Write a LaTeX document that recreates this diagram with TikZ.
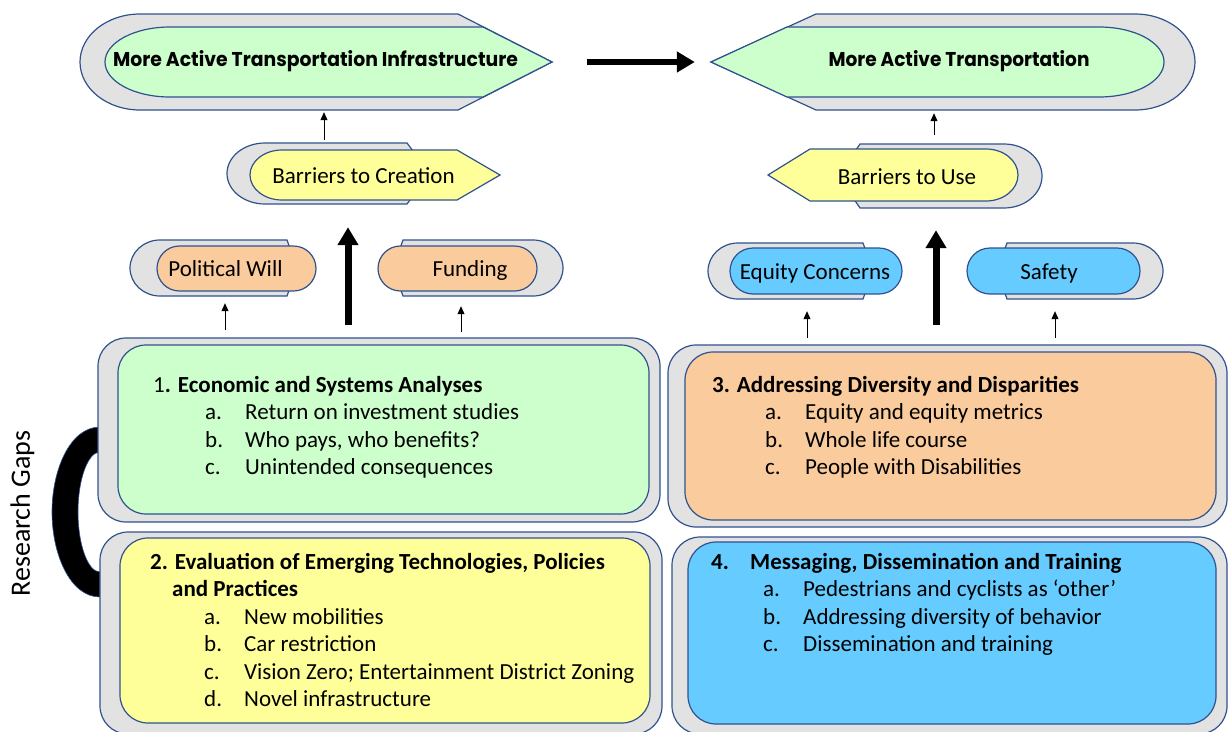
\documentclass[tikz,border=0pt]{standalone}
\usepackage{fontspec}
\setmainfont{Carlito}
\newfontfamily\titlefont{Poppins}
\usetikzlibrary{arrows.meta}
\definecolor{edge}{RGB}{47,82,143}
\definecolor{shade}{RGB}{226,226,226}
\definecolor{cgreen}{RGB}{204,255,204}
\definecolor{cyellow}{RGB}{255,255,153}
\definecolor{corange}{RGB}{250,203,156}
\definecolor{cblue}{RGB}{102,204,255}
\newcommand\mkitem[5]{\node[txt] (#1) at (#2,#3) {\makebox[40pt][l]{#4}#5};}
\begin{document}
\begin{tikzpicture}[x=1pt,y=-1pt,
  outer/.style={fill=shade, draw=edge, line width=1.2pt},
  inner/.style={draw=edge, line width=1.2pt},
  hold/.style 2 args={rectangle, inner sep=0pt, minimum width=#1, minimum height=#2},
  txt/.style={font=\fontsize{23}{27.5}\selectfont, inner sep=0pt, anchor=base west},
  lbl/.style={font=\fontsize{23}{27.5}\selectfont, inner sep=0pt, anchor=base},
  thinarr/.style={-{Triangle[width=7pt,length=8pt]}, line width=0.9pt},
  bigarr/.style={-{Triangle[width=20pt,length=18pt]}, line width=7pt}]
\useasboundingbox (0,0) rectangle (1228,731);

% anchor boxes for the shapes
\node[hold={472pt}{96pt}] (mati) at (316,62) {};
\node[hold={484pt}{96pt}] (mat) at (953,62) {};
\node[hold={273pt}{61pt}] (bc) at (363.5,173.5) {};
\node[hold={274pt}{64pt}] (bu) at (905,176) {};
\node[hold={186pt}{56pt}] (pw) at (223,268) {};
\node[hold={185pt}{56pt}] (fu) at (470.5,268) {};
\node[hold={194pt}{56pt}] (ec) at (805,271) {};
\node[hold={196pt}{56pt}] (sa) at (1065,271) {};
\node[hold={562pt}{184pt}] (g1) at (379,430) {};
\node[hold={562pt}{202pt}] (g2) at (381,633) {};
\node[hold={559pt}{182pt}] (g3) at (947.5,436) {};
\node[hold={555pt}{197pt}] (g4) at (949.5,635.5) {};

% top shapes
\draw[outer] (140,110) arc[start angle=90,end angle=270,x radius=60,y radius=48] -- (458,14) -- (552,62) -- (458,110) -- cycle;
\draw[inner, fill=cgreen] (170,97) arc[start angle=90,end angle=270,x radius=65,y radius=35] -- (483,27) -- (552,62) -- (483,97) -- cycle;
\draw[outer] (816,14) -- (1135,14) arc[start angle=270,end angle=450,x radius=60,y radius=48] -- (816,110) -- (711,62) -- cycle;
\draw[inner, fill=cgreen] (787,27) -- (1099,27) arc[start angle=270,end angle=450,x radius=65,y radius=35] -- (787,97) -- (711,62) -- cycle;
\node[anchor=base, inner sep=0pt] (matiT) at (315.5,66) {\resizebox{405pt}{16pt}{\titlefont\bfseries More Active Transportation Infrastructure}};
\node[anchor=base, inner sep=0pt] (matT) at (959,66) {\resizebox{261pt}{16pt}{\titlefont\bfseries More Active Transportation}};

% barriers
\draw[outer] (265,204) arc[start angle=90,end angle=270,x radius=38,y radius=30.5] -- (407,143) -- (430,173.5) -- (407,204) -- cycle;
\draw[inner, fill=cyellow] (282,200) arc[start angle=90,end angle=270,x radius=32,y radius=25] -- (457,150) -- (500,175) -- (457,200) -- cycle;
\draw[outer] (860,144) -- (1004,144) arc[start angle=270,end angle=450,x radius=38,y radius=32] -- (860,208) -- (838,176) -- cycle;
\draw[inner, fill=cyellow] (810,149) -- (986,149) arc[start angle=270,end angle=450,x radius=32,y radius=26] -- (810,201) -- (768,175) -- cycle;
\node[lbl] (bcT) at (363.5,183) {Barriers to Creation};
\node[lbl] (buT) at (907,184) {Barriers to Use};

% pills
\draw[outer] (160,296) arc[start angle=90,end angle=270,x radius=30,y radius=28] -- (287,240) -- (297,268) -- (287,296) -- cycle;
\draw[inner, fill=corange, rounded corners=22.5pt] (157,246) rectangle (316,291);
\draw[outer] (403,240) -- (533,240) arc[start angle=270,end angle=450,x radius=30,y radius=28] -- (403,296) -- (393,268) -- cycle;
\draw[inner, fill=corange, rounded corners=22.5pt] (378,246) rectangle (537,291);
\draw[outer] (738,299) arc[start angle=90,end angle=270,x radius=30,y radius=28] -- (863,243) -- (873,271) -- (863,299) -- cycle;
\draw[inner, fill=cblue, rounded corners=23pt] (730,248) rectangle (902,294);
\draw[outer] (1007,243) -- (1133,243) arc[start angle=270,end angle=450,x radius=30,y radius=28] -- (1007,299) -- (997,271) -- cycle;
\draw[inner, fill=cblue, rounded corners=23pt] (967,248) rectangle (1140,294);
\node[lbl] (pwT) at (225.5,276) {Political Will};
\node[lbl] (fuT) at (470,276) {Funding};
\node[lbl] (ecT) at (815,279) {Equity Concerns};
\node[lbl] (saT) at (1049,279) {Safety};

% research gaps bracket
\fill[black, draw=edge, line width=0.6pt] (100,427) .. controls (70,427) and (52,470) .. (52,512) .. controls (52,554) and (70,597) .. (100,597) -- (100,572) .. controls (88,572) and (78,545) .. (78,512) .. controls (78,479) and (88,452) .. (100,452) -- cycle;
\node[font=\fontsize{28}{32}\selectfont, rotate=90, inner sep=0pt] (rg) at (22.5,513.5) {Research Gaps};

% boxes
\draw[outer, rounded corners=28pt] (98,338) rectangle (660,522);
\draw[inner, fill=cgreen, rounded corners=28pt] (118,345) rectangle (649,514);
\draw[outer, rounded corners=28pt] (100,532) rectangle (662,734);
\draw[inner, fill=cyellow, rounded corners=28pt] (120,538) rectangle (650,723);
\draw[outer, rounded corners=28pt] (668,345) rectangle (1227,527);
\draw[inner, fill=corange, rounded corners=28pt] (685,352) rectangle (1216,520);
\draw[outer, rounded corners=28pt] (672,537) rectangle (1227,734);
\draw[inner, fill=cblue, rounded corners=28pt] (688,542) rectangle (1216,724);

% box texts
\node[txt] (h1) at (153,392) {1\textbf{. Economic and Systems Analyses}};
\mkitem{i1a}{205}{419.5}{a.}{Return on investment studies}
\mkitem{i1b}{205}{447}{b.}{Who pays, who benefits?}
\mkitem{i1c}{205}{474.5}{c.}{Unintended consequences}

\node[txt] (h2) at (150,569) {\textbf{2. Evaluation of Emerging Technologies, Policies}};
\node[txt] (h2b) at (172,596.5) {\textbf{and Practices}};
\mkitem{i2a}{204}{624}{a.}{New mobilities}
\mkitem{i2b}{204}{651.5}{b.}{Car restriction}
\mkitem{i2c}{204}{679}{c.}{Vision Zero; Entertainment District Zoning}
\mkitem{i2d}{204}{706.5}{d.}{Novel infrastructure}

\node[txt] (h3) at (712,392) {\textbf{3. Addressing Diversity and Disparities}};
\mkitem{i3a}{765}{419.5}{a.}{Equity and equity metrics}
\mkitem{i3b}{765}{447}{b.}{Whole life course}
\mkitem{i3c}{765}{474.5}{c.}{People with Disabilities}

\node[txt] (h4) at (711,569) {\textbf{\makebox[39pt][l]{4.}Messaging, Dissemination and Training}};
\mkitem{i4a}{763}{596.5}{a.}{Pedestrians and cyclists as ‘other’}
\mkitem{i4b}{763}{624}{b.}{Addressing diversity of behavior}
\mkitem{i4c}{763}{651.5}{c.}{Dissemination and training}

% connectors
\draw[bigarr, shorten <=35pt, shorten >=16pt, line width=6pt] (mati.east) -- (mat.west);
\draw[thinarr, shorten <=3pt, shorten >=2pt] ([xshift=-39.5pt]bc.north) -- ([xshift=-39.5pt]bc.north |- mati.south);
\draw[thinarr, shorten <=9pt, shorten >=3pt] ([xshift=29pt]bu.north) -- ([xshift=29pt]bu.north |- mat.south);
\draw[bigarr, shorten <=13pt, shorten >=23pt] ([xshift=-31pt]g1.north) -- ([xshift=-31pt]g1.north |- bc.south);
\draw[bigarr, shorten <=20pt, shorten >=22pt] ([xshift=-11.5pt]g3.north) -- ([xshift=-11.5pt]g3.north |- bu.south);
\draw[thinarr, shorten <=8pt, shorten >=7pt] ([xshift=-154pt]g1.north) -- ([xshift=-154pt]g1.north |- pw.south);
\draw[thinarr, shorten <=6pt, shorten >=10pt] ([xshift=82pt]g1.north) -- ([xshift=82pt]g1.north |- fu.south);
\draw[thinarr, shorten <=7pt, shorten >=12pt] ([xshift=-140.5pt]g3.north) -- ([xshift=-140.5pt]g3.north |- ec.south);
\draw[thinarr, shorten <=7pt, shorten >=12pt] ([xshift=107.5pt]g3.north) -- ([xshift=107.5pt]g3.north |- sa.south);
\end{tikzpicture}
\end{document}
